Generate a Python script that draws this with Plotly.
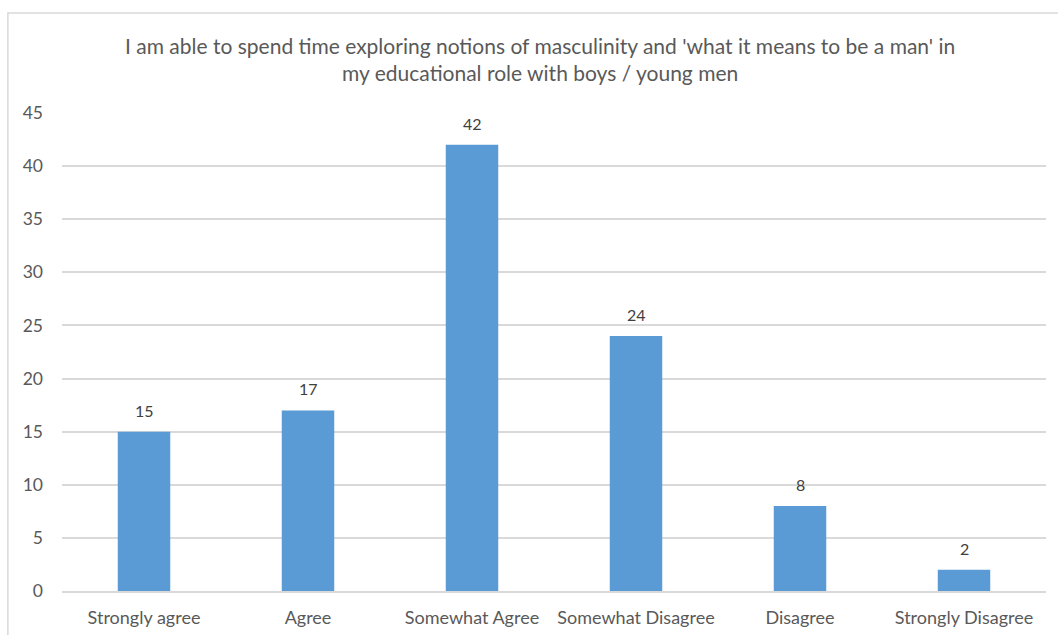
import plotly.graph_objects as go

categories = ["Strongly agree", "Agree", "Somewhat Agree", "Somewhat Disagree", "Disagree", "Strongly Disagree"]
counts = [15, 17, 42, 24, 8, 2]
y_ticks = [0, 5, 10, 15, 20, 25, 30, 35, 40, 45]

title_text = ("I am able to spend time exploring notions of masculinity and 'what it means to be a man' in"
              "<br>my educational role with boys / young men")

FONT = "Lato, 'Open Sans', sans-serif"
GREY = "#595959"
BAR = "#5B9BD5"

fig = go.Figure(
    go.Bar(
        x=categories,
        y=counts,
        marker=dict(color=BAR, line=dict(width=0)),
        width=0.32,
        hoverinfo="x+y",
    )
)

# value labels sitting above each bar
value_labels = [
    dict(
        x=c, y=v, xref="x", yref="y",
        text=str(v), showarrow=False,
        xanchor="center", yanchor="bottom", yshift=10,
        font=dict(family=FONT, size=16, color="#404040"),
    )
    for c, v in zip(categories, counts)
]

fig.update_layout(
    width=1058,
    height=635,
    margin=dict(l=62, r=12, t=113, b=44),
    paper_bgcolor="white",
    plot_bgcolor="white",
    showlegend=False,
    font=dict(family=FONT, color=GREY),
    annotations=[
        dict(
            text=title_text,
            xref="paper", yref="paper",
            x=0.486, y=1.172,
            xanchor="center", yanchor="top",
            showarrow=False,
            align="center",
            font=dict(family=FONT, size=21, color=GREY),
        )
    ] + value_labels,
    shapes=[
        dict(
            type="rect", xref="paper", yref="paper",
            x0=-0.055, x1=1.02, y0=-0.2, y1=1.209,
            line=dict(color="#D9D9D9", width=1.5),
            fillcolor="rgba(0,0,0,0)",
            layer="below",
        )
    ],
)

fig.update_xaxes(
    automargin=False,
    showgrid=False,
    showline=True,
    linecolor="#D9D9D9",
    linewidth=1.5,
    ticks="",
    ticklabelstandoff=10,
    tickfont=dict(family=FONT, size=18, color=GREY),
)
fig.update_yaxes(
    automargin=False,
    range=[0, 45],
    tickvals=y_ticks,
    showgrid=True,
    gridcolor="#D9D9D9",
    gridwidth=1.5,
    zeroline=False,
    showline=False,
    ticks="",
    ticklabelstandoff=18,
    tickfont=dict(family=FONT, size=17.5, color=GREY),
)

fig.write_html("out.html")
